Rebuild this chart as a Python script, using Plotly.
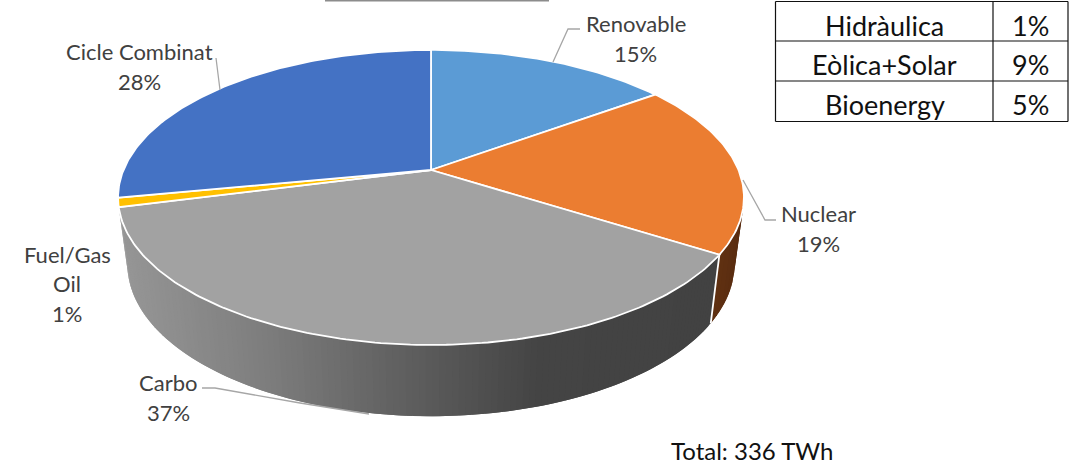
import numpy as np
import plotly.graph_objects as go

categories = ["Renovable", "Nuclear", "Carbo", "Fuel/Gas Oil", "Cicle Combinat"]
shares = [15, 19, 37, 1, 28]
top_colors = ["#5b9bd5", "#eb7d31", "#a2a2a2", "#ffc000", "#4472c4"]
table_names = ["Hidràulica", "Eòlica+Solar", "Bioenergy"]
table_values = ["1%", "9%", "5%"]
total_label = "Total: 336 TWh"

W, H = 1069, 466
CX, CY = 431.0, 170.0
A, B, K = 307.5, 142.4, 0.186
SX, SY, DY = 0.97, 1.03, 66.0


def top(frac):
    t = 2 * np.pi * np.asarray(frac, dtype=float)
    u, v = np.sin(t), np.cos(t)
    d = 1 + K * v
    return CX + A * u / d, CY - B * v / d


def bottom(frac):
    x, y = top(frac)
    return CX + (x - CX) * SX, CY + DY + (y - CY) * SY


def mix(stops, x):
    xs = [s[0] for s in stops]
    rgb = [np.interp(x, xs, [s[1][i] for s in stops]) for i in range(3)]
    return "rgb(%d,%d,%d)" % tuple(int(round(c)) for c in rgb)


carbo_stops = [(119, (150, 150, 150)), (250, (128, 128, 128)), (400, (96, 96, 96)),
               (540, (68, 68, 68)), (720, (66, 66, 66))]
nuc_stops = [(710, (100, 50, 18)), (745, (88, 44, 16))]

fig = go.Figure()


def poly(xs, ys, fill, line=None, width=0.0):
    fig.add_trace(go.Scatter(x=xs, y=ys, mode="lines", fill="toself", fillcolor=fill,
                             line=dict(color=line or fill, width=width), hoverinfo="skip",
                             showlegend=False))


cum = np.concatenate([[0], np.cumsum(shares)]) / sum(shares)


# side walls: each band overlaps the next one so no seams appear between them
def wall(f0, f1, stops, n):
    edges = np.linspace(f0, f1, n + 1)
    step = edges[1] - edges[0]
    for a in edges[:-1]:
        b = min(a + 2 * step, f1)
        f = np.linspace(a, b, 5)
        x0, y0 = top(f)
        x1, y1 = bottom(f)
        c = mix(stops, x0[:3].mean())
        poly(list(x0) + list(x1[::-1]) + [x0[0]], list(y0) + list(y1[::-1]) + [y0[0]], c)


wall(0.24, cum[2], nuc_stops, 12)
wall(cum[2], cum[3], carbo_stops, 130)

# white seam at nuclear/carbo wall
sx0, sy0 = top(cum[2])
sx1, sy1 = bottom(cum[2])
fig.add_trace(go.Scatter(x=[float(sx0), float(sx1)], y=[float(sy0), float(sy1)], mode="lines",
                         line=dict(color="white", width=1.8), hoverinfo="skip", showlegend=False))

# top face
for i in range(len(shares)):
    f = np.linspace(cum[i], cum[i + 1], max(int(shares[i] * 4), 6))
    x, y = top(f)
    poly([CX] + list(x) + [CX], [CY] + list(y) + [CY], top_colors[i], line="white", width=1.8)

# leader lines
leaders = [
    ([553, 568, 580], [62, 29, 29]),
    ([743, 765, 776], [180, 220, 220]),
    ([202, 215, 300, 369], [388, 388, 403, 414]),
    ([216, 220], [58, 90]),
]
for xs, ys in leaders:
    fig.add_trace(go.Scatter(x=xs, y=ys, mode="lines", line=dict(color="#a6a6a6", width=1.3),
                             hoverinfo="skip", showlegend=False))

# top rule
fig.add_trace(go.Scatter(x=[325, 549], y=[0.6, 0.6], mode="lines", line=dict(color="#8c8c8c", width=1.6),
                         hoverinfo="skip", showlegend=False))

# table grid
grid_y = [1.5, 41, 81, 121.5]
grid_x = [775.5, 993, 1068]
for gy in grid_y:
    fig.add_trace(go.Scatter(x=[grid_x[0], grid_x[-1]], y=[gy, gy], mode="lines",
                             line=dict(color="#111111", width=1.2), hoverinfo="skip", showlegend=False))
for gx in grid_x:
    fig.add_trace(go.Scatter(x=[gx, gx], y=[grid_y[0], grid_y[-1]], mode="lines",
                             line=dict(color="#111111", width=1.2), hoverinfo="skip", showlegend=False))


def label(text, x, y, size, color):
    fig.add_annotation(x=x, y=y, text=text, showarrow=False, xanchor="center", yanchor="middle",
                       font=dict(family="Lato", size=size, color=color))


LAB = "#404040"
LS = 22
pct = [f"{s}%" for s in shares]
label(categories[0], 635.5, 23, LS, LAB); label(pct[0], 635.5, 53, LS, LAB)
label(categories[1], 818, 213, LS, LAB); label(pct[1], 818, 243, LS, LAB)
label(categories[2], 168, 382, LS, LAB); label(pct[2], 168, 412, LS, LAB)
label("Fuel/Gas", 67, 254, LS, LAB); label("Oil", 67, 283, LS, LAB); label(pct[3], 67, 313, LS, LAB)
label(categories[4], 139.5, 51, LS, LAB); label(pct[4], 139.5, 81, LS, LAB)

for name, val, y in zip(table_names, table_values, [25, 64, 104]):
    label(name, 884.5, y, 27, "#111111")
    label(val, 1030, y, 27, "#111111")
label(total_label, 751.5, 450.5, 24, "#111111")

fig.update_layout(width=W, height=H, margin=dict(l=0, r=0, t=0, b=0),
                  paper_bgcolor="white", plot_bgcolor="white", showlegend=False,
                  xaxis=dict(range=[0, W], visible=False, fixedrange=True),
                  yaxis=dict(range=[H, 0], visible=False, fixedrange=True))

fig.write_html("out.html", config={"displayModeBar": False},
               post_script="document.body.style.margin='0';document.body.style.overflow='hidden';")
